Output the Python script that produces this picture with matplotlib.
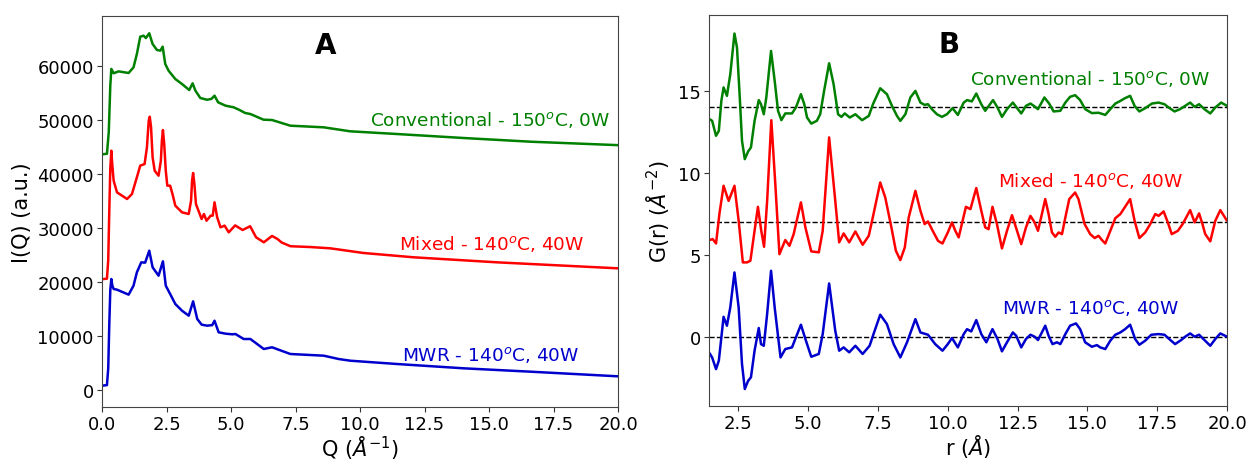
import numpy as np
import matplotlib
matplotlib.use("Agg")
import matplotlib.pyplot as plt

# ---- panel A : I(Q) ----
q_conv = [0.0, 0.19, 0.26, 0.32, 0.36, 0.45, 0.64, 1.03, 1.22, 1.35, 1.48, 1.61, 1.70, 1.83, 1.96,
          2.13, 2.26, 2.35, 2.45, 2.58, 2.84, 3.10, 3.38, 3.51, 3.62, 3.81, 4.07, 4.24, 4.36, 4.50,
          4.79, 5.10, 5.31, 5.55, 5.75, 6.26, 6.59, 7.30, 8.59, 9.62, 11.43, 14.02, 16.6, 20.0]
i_conv = [43600, 43700, 47700, 56300, 59400, 58600, 58950, 58650, 59700, 62160, 65360, 65550, 65120, 66000, 64010,
          62900, 62780, 63520, 60310, 59070, 57535, 56610, 55500, 56740, 55370, 54020, 53700, 53850, 54450, 53220,
          52600, 52300, 51850, 51245, 51060, 50010, 49950, 48900, 48600, 47860, 47360, 46620, 45940, 45300]

q_mix = [0.0, 0.19, 0.24, 0.28, 0.32, 0.36, 0.40, 0.45, 0.58, 0.97, 1.16, 1.35, 1.48, 1.65, 1.74,
         1.81, 1.85, 1.90, 1.96, 2.04, 2.19, 2.28, 2.32, 2.36, 2.41, 2.47, 2.53, 2.64, 2.73, 2.84,
         3.10, 3.36, 3.45, 3.49, 3.53, 3.58, 3.64, 3.86, 3.95, 4.05, 4.21, 4.29, 4.36, 4.46, 4.59,
         4.75, 4.91, 5.16, 5.45, 5.74, 5.97, 6.27, 6.59, 6.80, 6.96, 7.30, 8.07, 8.85, 10.14, 12.08,
         15.31, 20.0]
i_mix = [20500, 20600, 24000, 33000, 41000, 44270, 41500, 38720, 36570, 35335, 36260, 39350, 41500, 41810, 44900,
         49820, 50560, 48600, 43050, 40570, 39650, 42420, 46120, 48100, 45500, 40570, 37800, 37800, 36260, 34100,
         32870, 32560, 35020, 38720, 40150, 38100, 34400, 31635, 32560, 31320, 32250, 32250, 34725, 32000, 30100,
         30410, 29175, 30450, 29600, 30300, 28250, 27325, 28500, 27935, 27300, 26600, 26450, 26210, 25345, 24550,
         23620, 22510]

q_mwr = [0.0, 0.19, 0.24, 0.28, 0.32, 0.36, 0.40, 0.45, 0.58, 1.03, 1.22, 1.35, 1.52, 1.67, 1.83,
         1.96, 2.19, 2.36, 2.47, 2.64, 2.84, 3.10, 3.36, 3.53, 3.69, 3.86, 4.07, 4.27, 4.36, 4.52,
         4.79, 5.05, 5.17, 5.49, 5.75, 6.27, 6.59, 7.30, 8.59, 9.17, 9.62, 11.43, 14.02, 16.6, 20.0]
i_mwr = [800, 900, 4000, 12000, 18500, 20535, 19300, 18685, 18560, 17640, 19300, 21770, 23620, 23560, 25770,
         22700, 21150, 23800, 19300, 17760, 15910, 14670, 13750, 16400, 13135, 12090, 11900, 12000, 12820, 10670,
         10420, 10300, 10360, 9435, 9435, 7585, 7900, 6660, 6350, 5735, 5420, 4810, 4010, 3390, 2530]

# ---- panel B : G(r) ----
r_conv = [1.47, 1.56, 1.70, 1.80, 1.89, 1.97, 2.09, 2.21, 2.36, 2.45, 2.55, 2.63, 2.73, 2.85, 2.95,
          3.08, 3.23, 3.31, 3.41, 3.50, 3.67, 3.80, 3.92, 4.04, 4.18, 4.42, 4.56, 4.74, 4.86, 4.96,
          5.11, 5.31, 5.43, 5.57, 5.75, 5.91, 6.07, 6.19, 6.31, 6.49, 6.69, 6.93, 7.17, 7.32, 7.58,
          7.82, 8.00, 8.18, 8.30, 8.48, 8.66, 8.84, 9.02, 9.17, 9.29, 9.43, 9.61, 9.79, 9.97, 10.17,
          10.36, 10.57, 10.69, 10.86, 11.02, 11.20, 11.34, 11.62, 11.78, 11.94, 12.12, 12.33, 12.42, 12.63, 12.80,
          12.96, 13.08, 13.23, 13.46, 13.63, 13.79, 14.03, 14.21, 14.38, 14.56, 14.74, 14.92, 15.16, 15.40, 15.64,
          15.82, 16.00, 16.18, 16.35, 16.53, 16.69, 16.86, 17.07, 17.31, 17.55, 17.76, 17.91, 18.12, 18.32, 18.50,
          18.68, 18.84, 19.00, 19.19, 19.40, 19.58, 19.79, 20.0]
g_conv = [13.27, 13.17, 12.26, 12.56, 14.38, 15.20, 14.69, 16.00, 18.48, 17.63, 14.59, 11.95, 10.84, 11.31, 11.55,
          13.17, 14.43, 14.18, 13.57, 14.59, 17.42, 15.60, 13.78, 13.21, 13.62, 13.62, 13.98, 14.79, 14.18, 13.37,
          13.00, 13.17, 13.57, 14.99, 16.67, 15.40, 13.57, 13.41, 13.62, 13.37, 13.57, 13.21, 13.47, 14.18, 15.15,
          14.79, 14.08, 13.47, 13.17, 13.57, 14.59, 14.99, 14.28, 14.14, 14.18, 13.88, 13.57, 13.41, 13.57, 13.94,
          13.53, 14.28, 14.43, 14.35, 14.83, 14.18, 13.78, 14.43, 13.98, 13.41, 13.88, 14.28, 14.08, 13.62, 14.08,
          14.22, 14.08, 13.88, 14.59, 14.22, 13.74, 13.78, 14.28, 14.63, 14.73, 14.43, 13.88, 13.64, 13.66, 13.53,
          13.88, 14.22, 14.38, 14.55, 14.69, 14.08, 13.74, 13.94, 14.22, 14.28, 14.18, 13.98, 13.74, 13.88, 14.08,
          14.28, 14.02, 14.18, 13.88, 13.62, 13.98, 14.28, 14.08]

r_mix = [1.47, 1.58, 1.70, 1.82, 1.97, 2.15, 2.36, 2.51, 2.66, 2.81, 2.93, 3.08, 3.20, 3.32, 3.42,
         3.53, 3.68, 3.83, 3.97, 4.18, 4.33, 4.48, 4.74, 4.90, 5.11, 5.38, 5.52, 5.75, 5.97, 6.11,
         6.27, 6.47, 6.69, 6.95, 7.17, 7.34, 7.58, 7.76, 7.98, 8.14, 8.30, 8.46, 8.60, 8.84, 9.02,
         9.17, 9.29, 9.46, 9.65, 9.81, 10.00, 10.15, 10.27, 10.39, 10.53, 10.65, 10.81, 11.02, 11.20, 11.34,
         11.46, 11.60, 11.76, 11.94, 12.12, 12.30, 12.48, 12.63, 12.80, 12.96, 13.11, 13.23, 13.37, 13.49, 13.61,
         13.73, 13.85, 13.97, 14.09, 14.21, 14.35, 14.56, 14.68, 14.90, 15.10, 15.26, 15.40, 15.52, 15.64, 15.82,
         16.00, 16.18, 16.35, 16.53, 16.69, 16.86, 17.07, 17.25, 17.43, 17.55, 17.73, 17.88, 18.02, 18.24, 18.41,
         18.68, 18.84, 19.00, 19.12, 19.22, 19.40, 19.58, 19.76, 20.0]
g_mix = [5.92, 5.98, 5.71, 7.50, 9.22, 8.30, 9.22, 7.09, 4.56, 4.56, 4.66, 6.48, 7.94, 6.48, 5.51,
         8.30, 13.21, 9.12, 5.06, 5.92, 5.57, 6.28, 8.21, 6.69, 5.23, 5.17, 6.48, 12.16, 8.30, 5.78,
         6.32, 5.78, 6.44, 5.63, 6.18, 7.50, 9.42, 8.51, 6.69, 5.27, 4.70, 5.47, 7.29, 8.91, 7.70,
         6.89, 7.05, 6.48, 5.87, 5.71, 6.38, 6.99, 6.48, 6.08, 7.09, 7.94, 7.80, 9.08, 7.70, 6.69,
         6.58, 7.94, 6.89, 5.41, 6.48, 7.43, 6.48, 5.67, 6.69, 7.39, 6.99, 6.48, 7.50, 8.41, 7.50,
         6.38, 6.12, 6.38, 6.28, 7.29, 8.41, 8.81, 8.41, 6.89, 6.28, 6.04, 6.18, 5.92, 5.71, 6.48,
         7.25, 7.50, 7.94, 8.41, 7.09, 6.04, 6.38, 6.89, 7.50, 7.39, 7.66, 6.99, 6.28, 6.48, 6.89,
         7.74, 6.99, 7.54, 6.89, 6.28, 5.84, 7.09, 7.74, 7.09]

r_mwr = [1.47, 1.56, 1.70, 1.80, 1.97, 2.09, 2.21, 2.36, 2.51, 2.63, 2.73, 2.85, 2.95, 3.08, 3.23,
         3.31, 3.41, 3.53, 3.67, 3.80, 4.01, 4.18, 4.42, 4.74, 4.90, 5.11, 5.38, 5.52, 5.75, 5.97,
         6.11, 6.27, 6.47, 6.69, 6.95, 7.20, 7.34, 7.58, 7.82, 8.06, 8.30, 8.54, 8.84, 9.02, 9.29,
         9.55, 9.81, 10.00, 10.15, 10.36, 10.57, 10.69, 10.84, 11.02, 11.20, 11.38, 11.60, 11.78, 11.94, 12.12,
         12.33, 12.45, 12.63, 12.80, 12.96, 13.11, 13.23, 13.37, 13.49, 13.61, 13.75, 13.91, 14.03, 14.21, 14.38,
         14.59, 14.74, 14.92, 15.16, 15.34, 15.46, 15.64, 15.82, 16.00, 16.18, 16.35, 16.53, 16.71, 16.86, 17.07,
         17.29, 17.55, 17.76, 17.93, 18.14, 18.36, 18.50, 18.68, 18.84, 19.00, 19.19, 19.40, 19.58, 19.76, 20.0]
g_mwr = [-0.97, -1.22, -1.93, -1.42, 1.25, 0.71, 1.82, 3.95, 1.82, -1.62, -3.14, -2.64, -2.43, -0.81, 0.57,
         -0.41, -0.51, 1.42, 4.05, 1.82, -1.22, -0.71, -0.61, 0.77, -0.10, -1.18, -1.01, 0.20, 3.28, 0.40,
         -0.81, -0.61, -0.91, -0.51, -1.01, -0.51, 0.20, 1.38, 0.81, -0.41, -1.22, -0.30, 1.11, 0.30, 0.16,
         -0.41, -0.81, -0.41, -0.04, -0.61, 0.20, 0.50, 0.36, 1.05, 0.20, -0.30, 0.50, -0.10, -0.85, -0.30,
         0.30, 0.10, -0.61, -0.10, 0.16, 0.04, -0.16, 0.30, 0.71, 0.10, -0.41, -0.30, -0.41, 0.20, 0.71,
         0.85, 0.50, -0.30, -0.57, -0.47, -0.61, -0.71, -0.20, 0.16, 0.30, 0.50, 0.77, -0.10, -0.45, -0.20,
         0.16, 0.20, 0.16, -0.10, -0.41, -0.16, 0.04, 0.24, 0.04, 0.16, -0.16, -0.51, -0.10, 0.24, 0.04]

baselines = [14, 7, 0]
labels = ["Conventional - 150$^o$C, 0W", "Mixed - 140$^o$C, 40W", "MWR - 140$^o$C, 40W"]
colors = ["green", "red", "mediumblue"]

fig = plt.figure(figsize=(12.49, 4.6), dpi=100)
ax1 = fig.add_axes([0.0817, 0.113, 0.4131, 0.8507])
ax2 = fig.add_axes([0.5677, 0.115, 0.4147, 0.850])

line_kw = dict(lw=1.8, solid_joinstyle="round", solid_capstyle="round")

# panel A
ax1.plot(q_conv, i_conv, color=colors[0], **line_kw)
ax1.plot(q_mix, i_mix, color=colors[1], **line_kw)
ax1.plot(q_mwr, i_mwr, color=colors[2], **line_kw)
ax1.set_xlim(0, 20)
ax1.set_ylim(-3150, 69250)
ax1.set_xticks(np.arange(0, 20.1, 2.5))
ax1.set_yticks(np.arange(0, 60001, 10000))
ax1.set_xlabel("Q ($\\AA^{-1}$)", fontsize=15, labelpad=0)
ax1.set_ylabel("I(Q) (a.u.)", fontsize=15)
ax1.text(10.4, 50135, labels[0], color=colors[0], fontsize=13.3, va="center")
ax1.text(11.5, 27200, labels[1], color=colors[1], fontsize=13.3, va="center")
ax1.text(11.63, 6660, labels[2], color=colors[2], fontsize=13.3, va="center")
ax1.text(0.434, 0.925, "A", transform=ax1.transAxes, fontsize=20, fontweight="bold",
         ha="center", va="center")

# panel B
for b in baselines:
    ax2.axhline(b, color="black", ls="--", lw=1)
ax2.plot(r_conv, g_conv, color=colors[0], **line_kw)
ax2.plot(r_mix, g_mix, color=colors[1], **line_kw)
ax2.plot(r_mwr, g_mwr, color=colors[2], **line_kw)
ax2.set_xlim(1.45, 20)
ax2.set_ylim(-4.18, 19.6)
ax2.set_xticks(np.arange(2.5, 20.1, 2.5))
ax2.set_yticks([0, 5, 10, 15])
ax2.set_xlabel("r ($\\AA$)", fontsize=15, labelpad=0)
ax2.set_ylabel("G(r) ($\\AA^{-2}$)", fontsize=15)
ax2.text(10.78, 15.8, labels[0], color=colors[0], fontsize=13.3, va="center")
ax2.text(11.8, 9.6, labels[1], color=colors[1], fontsize=13.3, va="center")
ax2.text(11.93, 1.84, labels[2], color=colors[2], fontsize=13.3, va="center")
ax2.text(0.463, 0.926, "B", transform=ax2.transAxes, fontsize=20, fontweight="bold",
         ha="center", va="center")

for ax in (ax1, ax2):
    ax.tick_params(labelsize=13, pad=2.5, colors="#333333", labelcolor="black")
    for s in ax.spines.values():
        s.set_color("#444444")

fig.savefig("out.png", dpi=100)
